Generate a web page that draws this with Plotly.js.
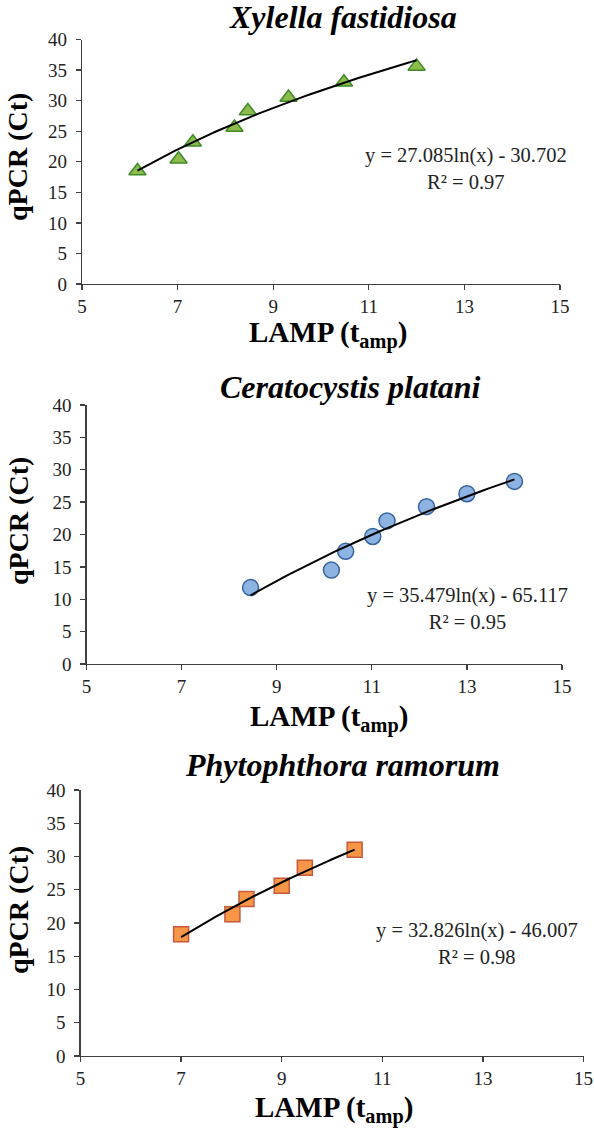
<!DOCTYPE html>
<html>
<head>
<meta charset="utf-8">
<script src="https://cdn.plot.ly/plotly-3.0.1.min.js"></script>
<style>html,body{margin:0;padding:0;background:#fff;}#chart{width:594px;height:1131px;}</style>
</head>
<body>
<div id="chart"></div>
<script>
// ---- Data ----
const titles = ["Xylella fastidiosa", "Ceratocystis platani", "Phytophthora ramorum"];
const xfX = [6.16, 7.02, 7.32, 8.19, 8.47, 9.32, 10.48, 12.0];
const xfY = [18.5, 20.4, 23.2, 25.6, 28.3, 30.5, 33.0, 35.6];
const cpX = [8.45, 10.15, 10.45, 11.02, 11.32, 12.15, 13.0, 14.0];
const cpY = [11.8, 14.5, 17.4, 19.7, 22.1, 24.3, 26.3, 28.2];
const prX = [7.0, 8.02, 8.3, 9.0, 9.46, 10.45];
const prY = [18.3, 21.3, 23.6, 25.6, 28.3, 31.0];
// trendline coefficients shown on the chart: y = a ln(x) + b
const fitA = [27.085, 35.479, 32.826];
const fitB = [-30.702, -65.117, -46.007];
const fitR2 = ["0.97", "0.95", "0.98"];
const eqText = ["y = 27.085ln(x) - 30.702", "y = 35.479ln(x) - 65.117", "y = 32.826ln(x) - 46.007"];
const xTicks = [5, 7, 9, 11, 13, 15];
const yTicks = [0, 5, 10, 15, 20, 25, 30, 35, 40];

// ---- Layout helpers ----
const W = 594, H = 1131;
const px = v => v / W;
const py = v => 1 - v / H;
const serif = "'Liberation Serif', 'Times New Roman', serif";

const panels = [
  {x: xfX, y: xfY, sym: 'triangle-up', size: 15, fill: '#8dbb4c', edge: '#3f8b28',
   dom: [82, 560, 39.5, 284], title: [343, 17], xt: [328, 335], yt: [18, 157], eq: [466, 168.5]},
  {x: cpX, y: cpY, sym: 'circle', size: 16, fill: '#8db3e2', edge: '#36649e',
   dom: [86.5, 562, 405, 664], title: [350, 387], xt: [329, 718], yt: [18, 521], eq: [467, 608.5]},
  {x: prX, y: prY, sym: 'square', size: 15, fill: '#f79646', edge: '#c65a3c',
   dom: [80.5, 583.5, 790, 1056], title: [342, 765], xt: [334, 1109], yt: [18, 910], eq: [477, 943.5]}
];

const traces = [];
const layout = {
  width: W, height: H,
  margin: {l: 0, r: 0, t: 0, b: 0},
  paper_bgcolor: '#ffffff', plot_bgcolor: '#ffffff',
  showlegend: false,
  font: {family: serif, color: '#222222'},
  annotations: []
};

panels.forEach((p, i) => {
  const n = i === 0 ? '' : String(i + 1);
  const xa = 'x' + n, ya = 'y' + n;
  // trendline across data range from the displayed equation
  const xmin = Math.min(...p.x), xmax = Math.max(...p.x);
  const lx = [], ly = [];
  for (let k = 0; k <= 60; k++) {
    const xv = xmin + (xmax - xmin) * k / 60;
    lx.push(xv); ly.push(fitA[i] * Math.log(xv) + fitB[i]);
  }
  traces.push({
    x: p.x, y: p.y, xaxis: xa, yaxis: ya, type: 'scatter', mode: 'markers',
    marker: {symbol: p.sym, size: p.size, color: p.fill, line: {color: p.edge, width: 1.5}},
    hoverinfo: 'skip'
  });
  traces.push({
    x: lx, y: ly, xaxis: xa, yaxis: ya, type: 'scatter', mode: 'lines',
    line: {color: '#000000', width: 2}, hoverinfo: 'skip'
  });
  const axCommon = {
    showgrid: false, zeroline: false, showline: true, linecolor: '#404040', linewidth: 1.3,
    ticks: 'outside', ticklen: 5, tickcolor: '#404040', tickwidth: 1.3,
    tickfont: {family: serif, size: 19, color: '#222222'}, fixedrange: true
  };
  layout['xaxis' + n] = Object.assign({}, axCommon, {
    domain: [px(p.dom[0]), px(p.dom[1])], anchor: ya, range: [5, 15],
    tickmode: 'array', tickvals: xTicks, ticktext: xTicks.map(String)
  });
  layout['yaxis' + n] = Object.assign({}, axCommon, {
    domain: [py(p.dom[3]), py(p.dom[2])], anchor: xa, range: [0, 40],
    tickmode: 'array', tickvals: yTicks, ticktext: yTicks.map(String), ticklabelstandoff: 5
  });
  layout.annotations.push({
    xref: 'paper', yref: 'paper', x: px(p.title[0]), y: py(p.title[1]),
    xanchor: 'center', yanchor: 'middle', showarrow: false,
    text: '<b><i>' + titles[i] + '</i></b>', font: {family: serif, size: 32, color: '#000000'}
  });
  layout.annotations.push({
    xref: 'paper', yref: 'paper', x: px(p.xt[0]), y: py(p.xt[1]),
    xanchor: 'center', yanchor: 'middle', showarrow: false,
    text: '<b>LAMP (t<sub>amp</sub>)</b>', font: {family: serif, size: 29, color: '#000000'}
  });
  layout.annotations.push({
    xref: 'paper', yref: 'paper', x: px(p.yt[0]), y: py(p.yt[1]),
    xanchor: 'center', yanchor: 'middle', showarrow: false, textangle: -90,
    text: '<b>qPCR (Ct)</b>', font: {family: serif, size: 28, color: '#000000'}
  });
  layout.annotations.push({
    xref: 'paper', yref: 'paper', x: px(p.eq[0]), y: py(p.eq[1]),
    xanchor: 'center', yanchor: 'middle', showarrow: false, align: 'center',
    text: eqText[i] + '<br>R² = ' + fitR2[i], font: {family: serif, size: 20.5, color: '#222222'}
  });
});

Plotly.newPlot('chart', traces, layout, {staticPlot: true, displayModeBar: false});
</script>
</body>
</html>
